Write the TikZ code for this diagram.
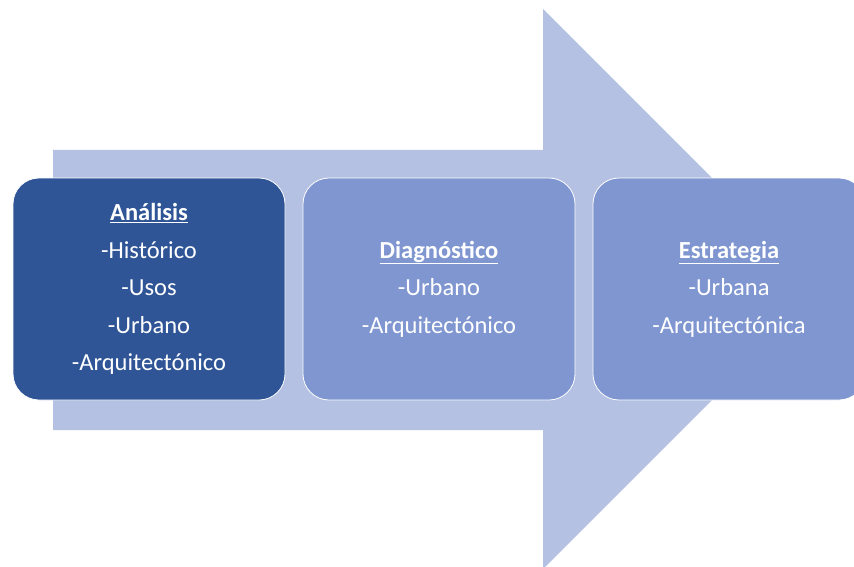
\documentclass[tikz,border=0pt]{standalone}
\usepackage{fontspec}
\setmainfont{Carlito}
\usetikzlibrary{positioning}
\definecolor{flecha}{HTML}{B4C1E2}
\definecolor{oscuro}{HTML}{2F5597}
\definecolor{medio}{HTML}{7F96D1}
\begin{document}
\begin{tikzpicture}[
			x=1pt, y=-1pt,
			node distance = 18pt,
			Etapa/.style={draw=white, line width=0.8pt, rounded corners=26pt,
				minimum width=272pt, minimum height=222pt, inner sep=0pt,
				outer sep=0pt, text=white, align=center,
				font=\fontsize{24.5}{37.5}\selectfont},
			]
			\useasboundingbox (0,0) rectangle (854,567);
			% flecha de fondo
			\fill[flecha] (53,150) -- (543,150) -- (543,9) -- (823,289)
			-- (543,569) -- (543,430) -- (53,430) -- cycle;
			
			\node [Etapa, fill=oscuro] (analisis) at (149,289)
			{\underline{\textbf{Análisis}}\\-Histórico\\-Usos\\-Urbano\\-Arquitectónico};
			\node [Etapa, fill=medio, right=of analisis] (diagnostico)
			{\underline{\textbf{Diagnóstico}}\\-Urbano\\-Arquitectónico};
			\node [Etapa, fill=medio, right=of diagnostico] (estrategia)
			{\underline{\textbf{Estrategia}}\\-Urbana\\-Arquitectónica};
		\end{tikzpicture}
\end{document}
